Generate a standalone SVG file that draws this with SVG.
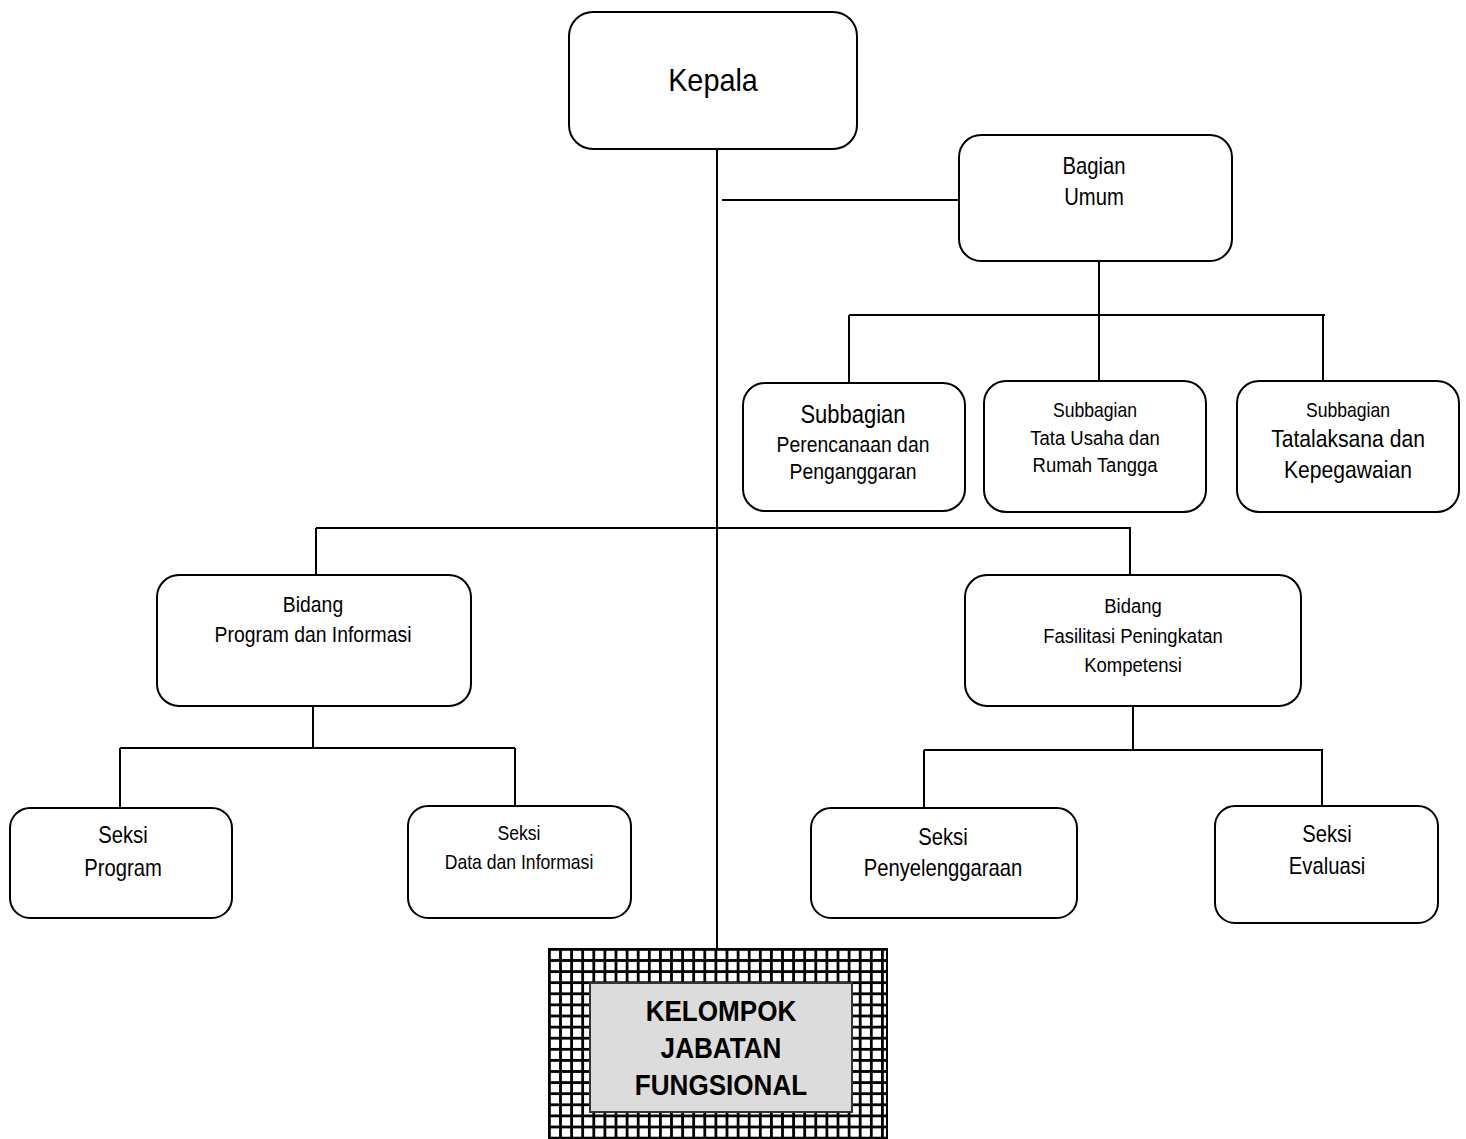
<svg xmlns="http://www.w3.org/2000/svg" width="1466" height="1139" viewBox="0 0 1466 1139">
<defs>
<style>
.box{fill:#fff;stroke:#000;stroke-width:2}
.ln{stroke:#000;stroke-width:2;fill:none}
text{font-family:"Liberation Sans",Arial,sans-serif;fill:#000;text-anchor:middle}
.b{font-weight:bold}
</style>
<pattern id="grid" patternUnits="userSpaceOnUse" x="548" y="948" width="11.1" height="11.1">
<rect width="11.1" height="11.1" fill="#fff"/>
<rect width="11.1" height="2.8" fill="#000"/>
<rect width="2.8" height="11.1" fill="#000"/>
</pattern>
</defs>
<rect width="1466" height="1139" fill="#fff"/>
<g id="connectors">
<line class="ln" x1="717" y1="149" x2="717" y2="950"/>
<line class="ln" x1="722" y1="200" x2="960" y2="200"/>
<line class="ln" x1="1099" y1="261" x2="1099" y2="382"/>
<line class="ln" x1="849" y1="315" x2="1325" y2="315"/>
<line class="ln" x1="849" y1="315" x2="849" y2="383"/>
<line class="ln" x1="1323" y1="315" x2="1323" y2="381"/>
<line class="ln" x1="316" y1="528" x2="1131" y2="528"/>
<line class="ln" x1="316" y1="528" x2="316" y2="575"/>
<line class="ln" x1="1130" y1="528" x2="1130" y2="575"/>
<line class="ln" x1="313" y1="706" x2="313" y2="748"/>
<line class="ln" x1="120" y1="748" x2="515" y2="748"/>
<line class="ln" x1="120" y1="748" x2="120" y2="808"/>
<line class="ln" x1="515" y1="748" x2="515" y2="806"/>
<line class="ln" x1="1133" y1="706" x2="1133" y2="750"/>
<line class="ln" x1="924" y1="750" x2="1323" y2="750"/>
<line class="ln" x1="924" y1="750" x2="924" y2="809"/>
<line class="ln" x1="1322" y1="750" x2="1322" y2="807"/>
</g>
<g id="kepala">
<rect class="box" x="569" y="12" width="288" height="137" rx="24"/>
<text transform="translate(713 91) scale(0.93 1)" font-size="31">Kepala</text>
</g>
<g id="bagian-umum">
<rect class="box" x="959" y="135" width="273" height="126" rx="22"/>
<text transform="translate(1094 174) scale(0.88 1)" font-size="23">Bagian</text>
<text transform="translate(1094 205) scale(0.88 1)" font-size="23">Umum</text>
</g>
<g id="sub-perencanaan">
<rect class="box" x="743" y="383" width="222" height="128" rx="22"/>
<text transform="translate(853 423) scale(0.88 1)" font-size="25">Subbagian</text>
<text transform="translate(853 452) scale(0.88 1)" font-size="22">Perencanaan dan</text>
<text transform="translate(853 479) scale(0.88 1)" font-size="22">Penganggaran</text>
</g>
<g id="sub-tatausaha">
<rect class="box" x="984" y="381" width="222" height="131" rx="22"/>
<text transform="translate(1095 417) scale(0.88 1)" font-size="20">Subbagian</text>
<text transform="translate(1095 445) scale(0.88 1)" font-size="21">Tata Usaha dan</text>
<text transform="translate(1095 472) scale(0.88 1)" font-size="21">Rumah Tangga</text>
</g>
<g id="sub-tatalaksana">
<rect class="box" x="1237" y="381" width="222" height="131" rx="22"/>
<text transform="translate(1348 417) scale(0.88 1)" font-size="20">Subbagian</text>
<text transform="translate(1348 447) scale(0.88 1)" font-size="24">Tatalaksana dan</text>
<text transform="translate(1348 478) scale(0.88 1)" font-size="24">Kepegawaian</text>
</g>
<g id="bidang-program">
<rect class="box" x="157" y="575" width="314" height="131" rx="22"/>
<text transform="translate(313 612) scale(0.88 1)" font-size="22">Bidang</text>
<text transform="translate(313 642) scale(0.88 1)" font-size="22">Program dan Informasi</text>
</g>
<g id="bidang-fasilitasi">
<rect class="box" x="965" y="575" width="336" height="131" rx="22"/>
<text transform="translate(1133 613) scale(0.88 1)" font-size="21">Bidang</text>
<text transform="translate(1133 643) scale(0.88 1)" font-size="21">Fasilitasi Peningkatan</text>
<text transform="translate(1133 672) scale(0.88 1)" font-size="21">Kompetensi</text>
</g>
<g id="seksi-program">
<rect class="box" x="10" y="808" width="222" height="110" rx="20"/>
<text transform="translate(123 843) scale(0.88 1)" font-size="23">Seksi</text>
<text transform="translate(123 876) scale(0.88 1)" font-size="23">Program</text>
</g>
<g id="seksi-data">
<rect class="box" x="408" y="806" width="223" height="112" rx="20"/>
<text transform="translate(519 840) scale(0.88 1)" font-size="20">Seksi</text>
<text transform="translate(519 869) scale(0.88 1)" font-size="20">Data dan Informasi</text>
</g>
<g id="seksi-penyelenggaraan">
<rect class="box" x="811" y="808" width="266" height="110" rx="20"/>
<text transform="translate(943 845) scale(0.88 1)" font-size="23">Seksi</text>
<text transform="translate(943 876) scale(0.88 1)" font-size="23">Penyelenggaraan</text>
</g>
<g id="seksi-evaluasi">
<rect class="box" x="1215" y="806" width="223" height="117" rx="20"/>
<text transform="translate(1327 842) scale(0.88 1)" font-size="23">Seksi</text>
<text transform="translate(1327 874) scale(0.88 1)" font-size="23">Evaluasi</text>
</g>
<g id="kelompok-jabatan-fungsional">
<rect x="548" y="948" width="339" height="196" fill="url(#grid)"/>
<rect x="549" y="949" width="338" height="195" fill="none" stroke="#000" stroke-width="2"/>
<rect x="590" y="983" width="262" height="129" fill="#dcdcdc" stroke="#333" stroke-width="2"/>
<text class="b" transform="translate(721 1021) scale(0.9 1)" font-size="29">KELOMPOK</text>
<text class="b" transform="translate(721 1058) scale(0.9 1)" font-size="29">JABATAN</text>
<text class="b" transform="translate(721 1095) scale(0.9 1)" font-size="29">FUNGSIONAL</text>
</g>
</svg>
